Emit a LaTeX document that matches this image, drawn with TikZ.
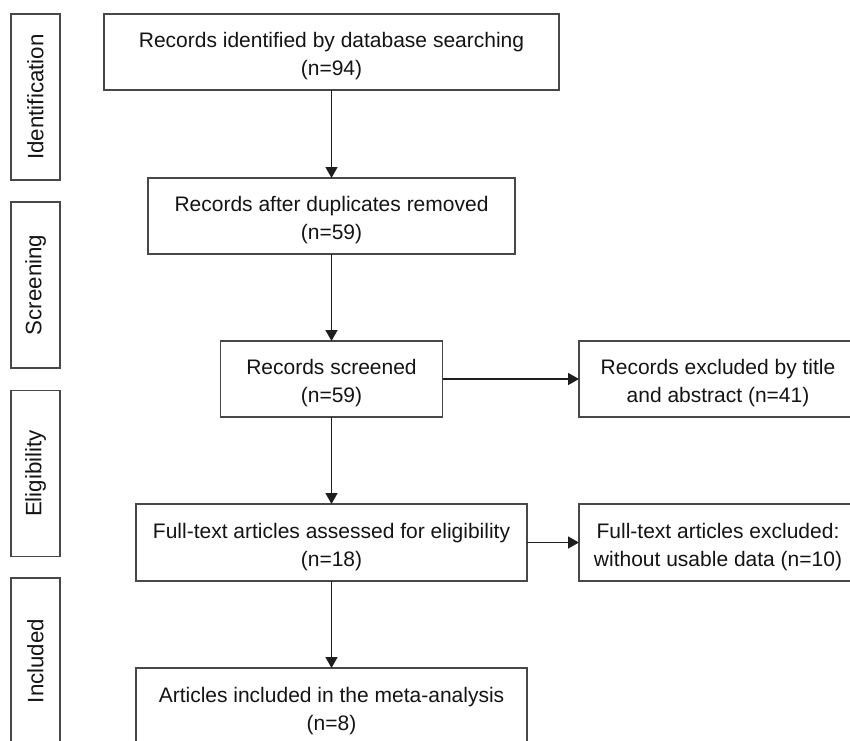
\documentclass[tikz,border=0pt]{standalone}
\usepackage{fontspec}
\setmainfont{Liberation Sans}
\usetikzlibrary{arrows.meta}
\definecolor{boxline}{HTML}{484848}
\definecolor{arrline}{HTML}{1E1E1E}
\newcommand{\myup}{\rule{0pt}{24pt}}
\begin{document}
\begin{tikzpicture}[x=1pt,y=-1pt,
  box/.style={draw=boxline,line width=1.4pt,inner sep=0pt,outer sep=0pt,align=center,
    font=\fontsize{21}{28}\selectfont,text=black!92},
  side/.style={box,font=\fontsize{22.3}{28}\selectfont,rotate=90,minimum width=166pt,minimum height=49pt},
  arr/.style={draw=arrline,line width=1.4pt,-{Triangle[length=11pt,width=12pt]}}]
\useasboundingbox (0,0) rectangle (850,740);
\clip (0,0) rectangle (850,740);
\node[side] (s1) at (35.5,97) {Identification};
\node[side] (s2) at (35.5,285) {Screening};
\node[side] (s3) at (35.5,473.5) {Eligibility};
\node[side] (s4) at (35.5,661) {Included};
\node[box,minimum width=455pt,minimum height=76pt] (b1) at (331.5,52) {\myup Records identified by database searching\\(n=94)};
\node[box,minimum width=367pt,minimum height=76pt] (b2) at (331.5,216) {\myup Records after duplicates removed\\(n=59)};
\node[box,minimum width=222pt,minimum height=76pt] (b3) at (331.5,379) {\myup Records screened\\(n=59)};
\node[box,minimum width=391pt,minimum height=77pt] (b4) at (331.5,542.5) {\myup Full-text articles assessed for eligibility\\(n=18)};
\node[box,minimum width=391pt,minimum height=77pt] (b5) at (331.5,706.5) {\myup Articles included in the meta-analysis\\(n=8)};
\node[box,minimum width=278pt,minimum height=76pt] (r1) at (718,379) {\myup Records excluded by title\\and abstract (n=41)};
\node[box,minimum width=278pt,minimum height=77pt] (r2) at (718,542.5) {\myup Full-text articles excluded:\\without usable data (n=10)};
\draw[arr] (b1) -- (b2);
\draw[arr] (b2) -- (b3);
\draw[arr] (b3) -- (b4);
\draw[arr] (b4) -- (b5);
\draw[arr] (b3.east) -- (r1.west);
\draw[arr] (b4.east) -- (r2.west);
\end{tikzpicture}
\end{document}
